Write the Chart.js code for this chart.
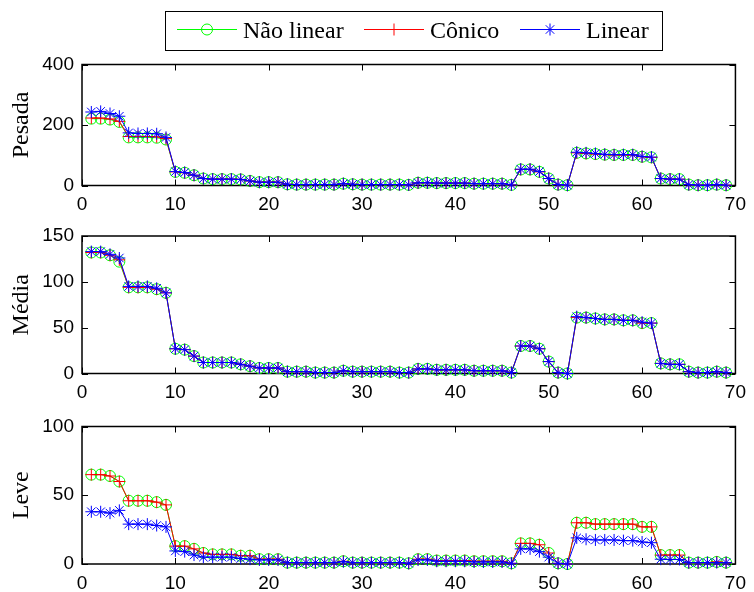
<!DOCTYPE html>
<html>
<head>
<meta charset="utf-8">
<script src="https://cdn.jsdelivr.net/npm/chart.js@4.4.0/dist/chart.umd.min.js"></script>
<style>
body { margin: 0; background: #fff; }
#wrap { position: relative; width: 754px; height: 592px; }
canvas { position: absolute; left: 0; }
</style>
</head>
<body>
<div id="wrap">
  <canvas id="c1" width="754" height="215" style="top:0px"></canvas>
  <canvas id="c2" width="754" height="190" style="top:215px"></canvas>
  <canvas id="c3" width="754" height="187" style="top:405px"></canvas>
</div>
<script>
// series names
const seriesNames = ['Não linear', 'Cônico', 'Linear'];
const panelTitles = ['Pesada', 'Média', 'Leve'];

// x positions (sample index)
const indices = [1,2,3,4,5,6,7,8,9,10,11,12,13,14,15,16,17,18,19,20,21,22,23,24,25,26,27,28,29,30,
  31,32,33,34,35,36,37,38,39,40,41,42,43,44,45,46,47,48,49,50,51,52,53,54,55,56,57,58,59,60,
  61,62,63,64,65,66,67,68,69];

const xTicks = [0, 10, 20, 30, 40, 50, 60, 70];

// Pesada
const pesadaNaoLinear = [221,221,218,210,159,159,159,158,152,45,42,34,23,21,21,21,20,15,11,11,11,4,3,3,3,3,3,6,4,3,
  3,3,3,3,2,9,9,8,8,8,8,6,6,6,6,2,53,53,45,23,3,1,108,106,104,102,101,101,101,95,
  93,23,21,21,3,1,1,3,1];
const pesadaConico = [223,223,220,212,162,162,162,161,155,45,42,34,23,21,21,21,20,15,11,11,11,4,3,3,3,3,3,6,4,3,
  3,3,3,3,2,9,9,8,8,8,8,6,6,6,6,2,53,53,45,23,3,1,108,106,104,102,101,101,101,95,
  93,23,21,21,3,1,1,3,1];
const pesadaLinear = [243,245,238,229,174,172,172,171,159,46,43,34,23,21,21,21,20,15,11,11,11,4,3,3,3,3,3,6,4,3,
  3,3,3,3,2,9,9,8,8,8,8,6,6,6,6,2,54,54,46,23,3,1,110,108,106,103,102,102,102,96,
  94,23,21,21,3,1,1,3,1];

// Média
const mediaNaoLinear = [132,132,129,122,94,94,94,92,88,27,26,19,12,12,12,12,10,8,6,6,6,2,2,2,1,1,1,3,2,2,
  2,2,2,1,1,5,5,4,4,4,4,3,3,3,3,1,30,30,27,13,1,0,61,61,60,59,59,58,58,55,
  55,11,10,10,2,1,1,2,1];
const mediaConico = [132,132,129,124,94,94,94,92,88,27,26,19,12,12,12,12,10,8,6,6,6,2,2,2,1,1,1,3,2,2,
  2,2,2,1,1,5,5,4,4,4,4,3,3,3,3,1,30,30,27,13,1,0,61,61,60,59,59,58,58,55,
  55,11,10,10,2,1,1,2,1];
const mediaLinear = [133,133,130,126,95,95,95,93,88,27,26,19,12,12,12,12,10,8,6,6,6,2,2,2,1,1,1,3,2,2,
  2,2,2,1,1,5,5,4,4,4,4,3,3,3,3,1,30,30,27,13,1,0,62,61,60,59,59,58,58,56,
  55,11,10,10,2,1,1,2,1];

// Leve
const leveNaoLinear = [65,65,64,60,46,46,46,45,43,13,13,11,8,7,7,7,6,6,3.5,3.5,3.5,1,1,1,1,1,1,2,1,1,
  1,1,1,1,0.5,3.5,3.5,2.5,2.5,2.5,2.5,2,2,2,2,0.5,15,15,14,8,0.5,0,30,30,29,29,29,29,29,27,
  27,6.5,6.5,6.5,1,1,1,1.5,1];
const leveConico = [65,65,64,60,46,46,46,45,43,13,13,11,8,7,7,7,6,6,3.5,3.5,3.5,1,1,1,1,1,1,2,1,1,
  1,1,1,1,0.5,3.5,3.5,2.5,2.5,2.5,2.5,2,2,2,2,0.5,15,15,14,8,0.5,0,30,30,29,29,29,29,29,27,
  27,6.5,6.5,6.5,1,1,1,1.5,1];
const leveLinear = [38,38,37,39,29,29,29,28,27,9.5,9,6.5,5,5,5,5,4,3.5,3,3,3,1,1,1,1,1,1,1.7,1,1,
  1,1,1,1,0.5,3,3,2,2,2,2,1.5,1.5,1.5,1.5,0.5,11,11,9,5,0.5,0,19,18,17.5,17.5,17.5,17,17,16,
  15.5,3.5,3.3,3.3,1,1,1,1,1];

const yMax = [400, 150, 100];
const yStep = [200, 50, 50];

const colors = ['#00ff00', '#ff0000', '#0000ff'];
const styles = ['circle', 'cross', 'star'];
const radii = [5.5, 6, 6];

const tickFont = { family: '"Liberation Sans", Arial, sans-serif', size: 19 };
const serifFont = '"Liberation Serif", "Times New Roman", serif';

function pts(values) {
  return values.map((v, i) => ({ x: indices[i], y: v }));
}

// axes box with inward ticks on all four sides
const boxPlugin = {
  id: 'box',
  beforeDatasetsDraw(chart) {
    const a = chart.chartArea;
    const ctx = chart.ctx;
    ctx.save();
    ctx.strokeStyle = '#000';
    ctx.lineWidth = 1.5;
    ctx.strokeRect(a.left, a.top, a.right - a.left, a.bottom - a.top);
    ctx.lineWidth = 1;
    ctx.beginPath();
    chart.scales.x.ticks.forEach(t => {
      const px = Math.round(chart.scales.x.getPixelForValue(t.value)) + 0.5;
      ctx.moveTo(px, a.bottom); ctx.lineTo(px, a.bottom - 6);
      ctx.moveTo(px, a.top); ctx.lineTo(px, a.top + 6);
    });
    chart.scales.y.ticks.forEach(t => {
      const py = Math.round(chart.scales.y.getPixelForValue(t.value)) + 0.5;
      ctx.moveTo(a.left, py); ctx.lineTo(a.left + 6, py);
      ctx.moveTo(a.right, py); ctx.lineTo(a.right - 6, py);
    });
    ctx.stroke();
    ctx.restore();
  }
};

// boxed legend with line + marker samples
const legendPlugin = {
  id: 'boxLegend',
  afterDraw(chart) {
    const ctx = chart.ctx;
    const samples = [177, 364, 520];
    ctx.save();
    ctx.fillStyle = '#fff';
    ctx.fillRect(165, 11, 498, 39);
    ctx.strokeStyle = '#000';
    ctx.lineWidth = 1;
    ctx.strokeRect(165.5, 11.5, 497, 39);
    ctx.font = '24px ' + serifFont;
    ctx.textBaseline = 'alphabetic';
    ctx.textAlign = 'left';
    seriesNames.forEach((name, i) => {
      const x0 = samples[i];
      ctx.fillStyle = colors[i];
      ctx.fillRect(x0, 29, 60, 1);
      ctx.fillStyle = 'rgba(0,0,0,0)';
      ctx.strokeStyle = colors[i];
      ctx.lineWidth = 1;
      Chart.helpers.drawPoint(ctx, {
        pointStyle: styles[i], radius: radii[i], borderWidth: 1, rotation: 0
      }, x0 + 30, 29.5);
      ctx.fillStyle = '#000';
      ctx.fillText(name, x0 + 66, 38);
    });
    ctx.restore();
  }
};

function makePanel(id, idx, canvasTop, canvasH, plotTop, plotBottom, a, b, c, withLegend) {
  const series = [a, b, c];
  new Chart(document.getElementById(id), {
    type: 'line',
    data: {
      datasets: series.map((vals, i) => ({
        label: seriesNames[i],
        data: pts(vals),
        borderColor: colors[i],
        backgroundColor: 'rgba(0,0,0,0)',
        pointBorderColor: colors[i],
        pointBackgroundColor: 'rgba(0,0,0,0)',
        pointStyle: styles[i],
        pointRadius: radii[i],
        pointBorderWidth: 1,
        borderWidth: 1,
        tension: 0,
        clip: false,
        order: 2 - i
      }))
    },
    options: {
      responsive: false,
      animation: false,
      events: [],
      layout: { padding: { top: plotTop - canvasTop, left: 0, right: 15, bottom: 0 } },
      plugins: { legend: { display: false }, tooltip: { enabled: false } },
      scales: {
        x: {
          type: 'linear',
          min: 0, max: 70,
          afterBuildTicks: s => { s.ticks = xTicks.map(v => ({ value: v })); },
          afterFit: s => { s.height = canvasTop + canvasH - plotBottom; },
          grid: { display: false, drawTicks: false },
          border: { display: false },
          ticks: { font: tickFont, color: '#000', padding: 8, maxRotation: 0 }
        },
        y: {
          min: 0, max: yMax[idx],
          ticks: { stepSize: yStep[idx], font: tickFont, color: '#000', padding: 8 },
          afterFit: s => { s.width = 82; },
          grid: { display: false, drawTicks: false },
          border: { display: false },
          title: {
            display: true, text: panelTitles[idx], color: '#000',
            font: { family: serifFont, size: 24 },
            padding: { top: 7, bottom: 0 }
          }
        }
      }
    },
    plugins: withLegend ? [boxPlugin, legendPlugin] : [boxPlugin]
  });
}

makePanel('c1', 0, 0, 215, 64.5, 185.5, pesadaNaoLinear, pesadaConico, pesadaLinear, true);
makePanel('c2', 1, 215, 190, 236, 373.5, mediaNaoLinear, mediaConico, mediaLinear, false);
makePanel('c3', 2, 405, 187, 426.5, 564, leveNaoLinear, leveConico, leveLinear, false);
</script>
</body>
</html>
